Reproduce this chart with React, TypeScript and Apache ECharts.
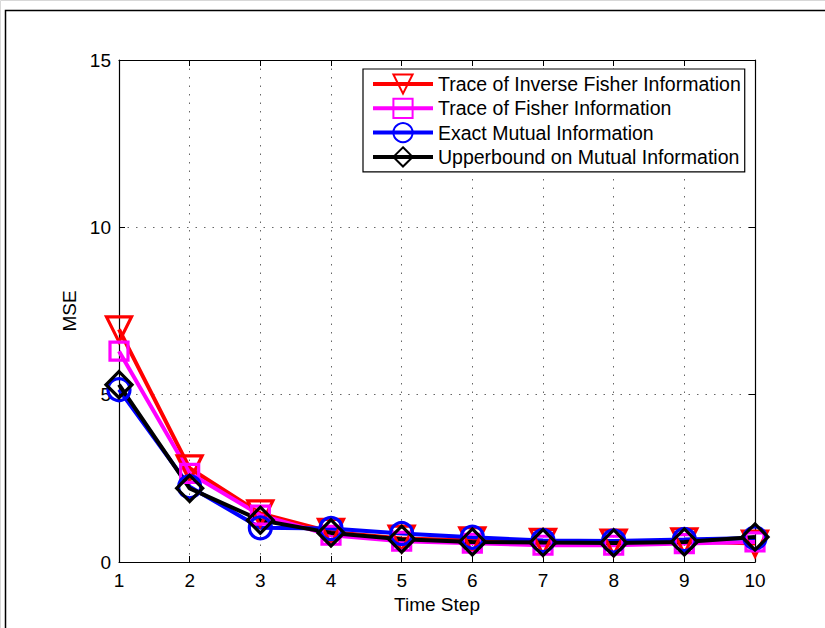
import React, { useEffect, useRef } from "react";
import * as echarts from "echarts";

const timeSteps = [1, 2, 3, 4, 5, 6, 7, 8, 9, 10];
const traceInverseFisher = [6.95, 2.8, 1.45, 0.9, 0.7, 0.65, 0.6, 0.58, 0.62, 0.55];
const traceFisher = [6.3, 2.65, 1.4, 0.8, 0.62, 0.56, 0.5, 0.5, 0.55, 0.6];
const exactMI = [5.15, 2.25, 1.02, 1.0, 0.85, 0.74, 0.64, 0.63, 0.67, 0.72];
const upperboundMI = [5.3, 2.2, 1.25, 0.87, 0.68, 0.6, 0.58, 0.57, 0.6, 0.75];
const seriesNames = [
  "Trace of Inverse Fisher Information",
  "Trace of Fisher Information",
  "Exact Mutual Information",
  "Upperbound on Mutual Information",
];

const FONT = "Liberation Sans, Arial, Helvetica, sans-serif";

export default function App() {
  const ref = useRef<HTMLDivElement>(null);
  useEffect(() => {
    if (!ref.current) return;
    const chart = echarts.init(ref.current, undefined, { renderer: "svg" });
    const mk = (
      name: string,
      data: number[],
      color: string,
      symbol: string,
      size: number,
      rotate = 0
    ) => ({
      name,
      type: "line",
      data: timeSteps.map((t, i) => [t, data[i]]),
      symbol,
      symbolSize: size,
      symbolRotate: rotate,
      showAllSymbol: true,
      lineStyle: { color, width: 4 },
      itemStyle: { color: "transparent", borderColor: color, borderWidth: 3.2 },
      emphasis: { disabled: true },
      z: 3,
    });
    const gridLine = { show: true, lineStyle: { color: "#666", type: [1.5, 7], width: 1 } };
    const axisCommon = {
      axisLine: { show: true, onZero: false, lineStyle: { color: "#000", width: 1.2 } },
      axisTick: { show: true, inside: true, length: 6, lineStyle: { color: "#000", width: 1 } },
    };
    chart.setOption({
      animation: false,
      backgroundColor: "#fff",
      textStyle: { fontFamily: FONT },
      grid: { left: 119, right: 70, top: 60, bottom: 66, containLabel: false },
      graphic: [
        { type: "rect", shape: { x: 0.5, y: 0.5, width: 900, height: 700 }, style: { fill: "none", stroke: "#d8d8d8", lineWidth: 1 }, z: -1 },
        { type: "rect", shape: { x: 5.5, y: 10.5, width: 900, height: 700 }, style: { fill: "none", stroke: "#000", lineWidth: 1.5 }, z: -1 },
      ],
      xAxis: [
        {
          type: "value",
          min: 1,
          max: 10,
          interval: 1,
          name: "Time Step",
          nameLocation: "middle",
          nameGap: 33,
          nameTextStyle: { fontSize: 19, color: "#000", fontFamily: FONT },
          axisLabel: { fontSize: 19, color: "#000", margin: 9, fontFamily: FONT },
          splitLine: gridLine,
          ...axisCommon,
        },
        {
          type: "value",
          position: "top",
          min: 1,
          max: 10,
          interval: 1,
          axisLabel: { show: false },
          splitLine: { show: false },
          ...axisCommon,
        },
      ],
      yAxis: [
        {
          type: "value",
          min: 0,
          max: 15,
          interval: 5,
          name: "MSE",
          nameLocation: "middle",
          nameGap: 36,
          nameTextStyle: { fontSize: 19, color: "#000", fontFamily: FONT },
          axisLabel: { fontSize: 19, color: "#000", margin: 8, fontFamily: FONT },
          splitLine: gridLine,
          ...axisCommon,
        },
        {
          type: "value",
          position: "right",
          min: 0,
          max: 15,
          interval: 5,
          axisLabel: { show: false },
          splitLine: { show: false },
          ...axisCommon,
        },
      ],
      legend: {
        orient: "vertical",
        left: 363,
        top: 69,
        padding: [3, 4, 3, 8],
        itemGap: 0.3,
        itemWidth: 60,
        itemHeight: 24,
        backgroundColor: "#fff",
        borderColor: "#000",
        borderWidth: 1.2,
        lineStyle: { width: 4 },
        textStyle: { fontSize: 19.5, lineHeight: 24, color: "#000", fontFamily: FONT },
        data: seriesNames,
      },
      series: [
        mk(seriesNames[0], traceInverseFisher, "#ff0000", "triangle", 25, 180),
        mk(seriesNames[1], traceFisher, "#ff00ff", "rect", 18),
        mk(seriesNames[2], exactMI, "#0000ff", "circle", 22),
        mk(seriesNames[3], upperboundMI, "#000000", "diamond", 26),
      ],
    });
    return () => chart.dispose();
  }, []);
  return (
    <div
      ref={ref}
      style={{ position: "fixed", left: 0, top: 0, width: 825, height: 628 }}
    />
  );
}
